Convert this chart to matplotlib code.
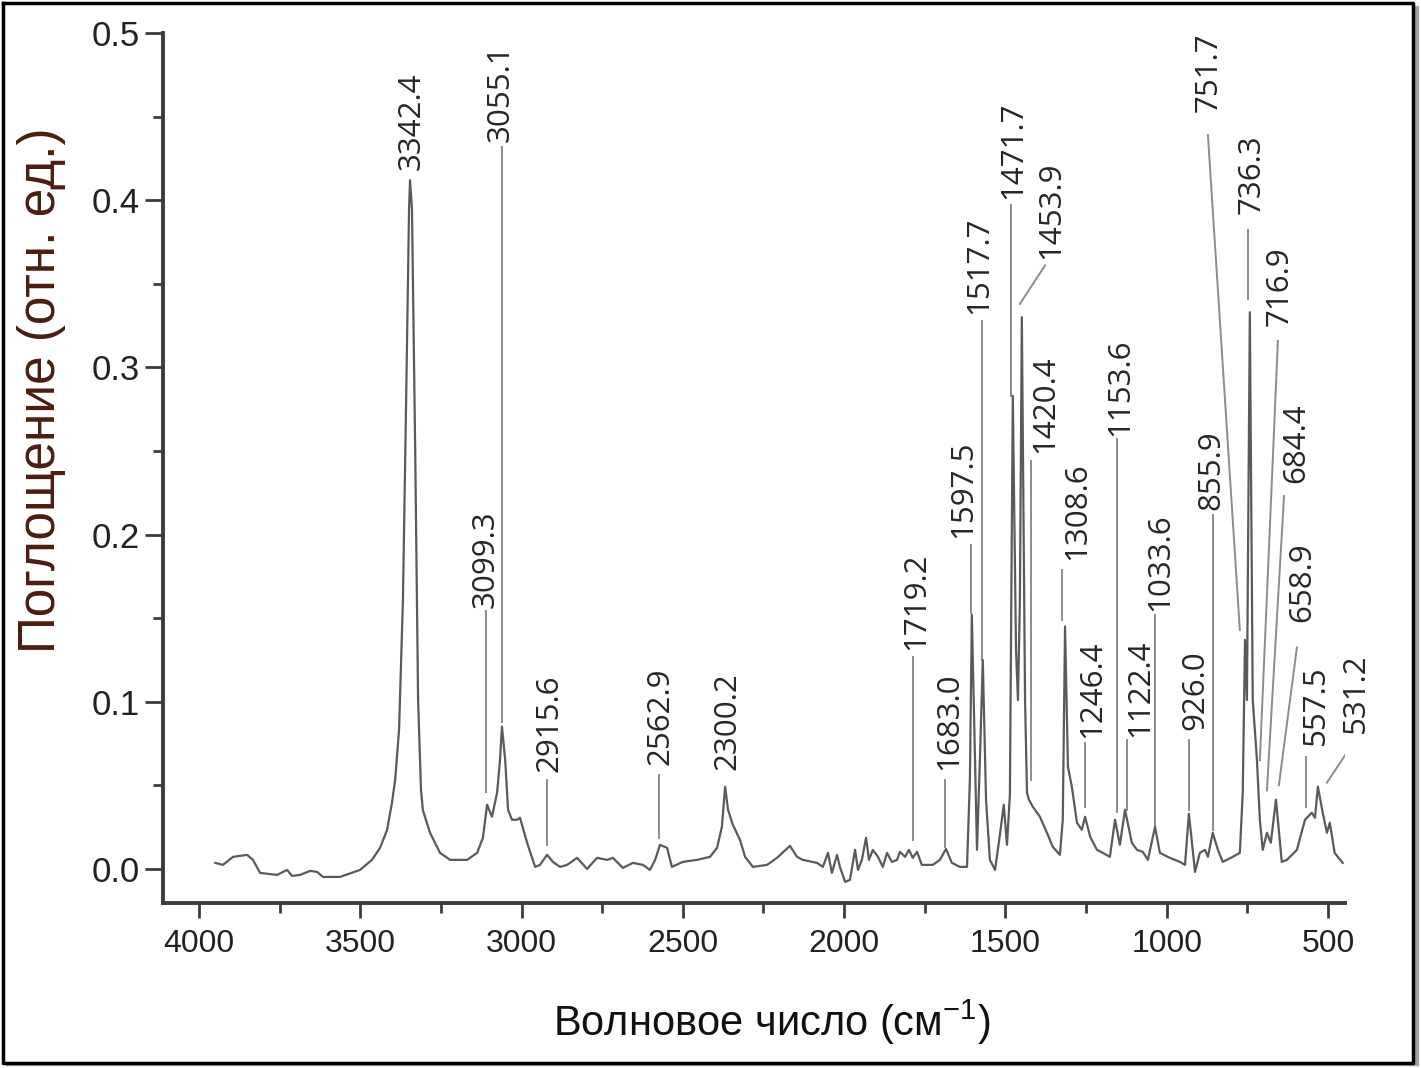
import numpy as np
import matplotlib
matplotlib.use('Agg')
import matplotlib.pyplot as plt
from matplotlib.ticker import MultipleLocator, FormatStrFormatter
from matplotlib.lines import Line2D

# IR spectrum (wavenumber in cm-1, absorbance)
wavenumber = [3950, 3926, 3895, 3851, 3833, 3811, 3758, 3727, 3712, 3687, 3656, 3634, 3616, 3563,
              3501, 3464, 3439, 3417, 3402, 3392, 3380, 3368, 3358, 3349, 3346, 3340, 3330, 3321,
              3312, 3306, 3284, 3253, 3222, 3169, 3138, 3120, 3107, 3092, 3076, 3067, 3061, 3051,
              3042, 3030, 3014, 3005, 2983, 2958, 2943, 2921, 2903, 2881, 2859, 2828, 2797, 2766,
              2735, 2717, 2686, 2655, 2624, 2602, 2586, 2571, 2549, 2534, 2500, 2456, 2416, 2394,
              2379, 2369, 2360, 2345, 2323, 2307, 2283, 2239, 2208, 2168, 2146, 2128, 2084, 2066,
              2050, 2038, 2022, 2013, 1997, 1982, 1966, 1957, 1945, 1932, 1923, 1911, 1895, 1880,
              1867, 1852, 1836, 1827, 1811, 1799, 1787, 1774, 1759, 1725, 1703, 1684, 1666, 1641,
              1619, 1610, 1604, 1594, 1588, 1579, 1570, 1560, 1548, 1532, 1517, 1505, 1495, 1486,
              1477, 1467, 1461, 1455, 1449, 1439, 1433, 1427, 1415, 1393, 1371, 1353, 1331, 1322,
              1315, 1306, 1294, 1278, 1263, 1253, 1237, 1216, 1198, 1176, 1160, 1145, 1129, 1108,
              1092, 1074, 1058, 1036, 1021, 990, 959, 943, 931, 912, 897, 881, 872, 857, 841, 826,
              795, 773, 764, 757, 751, 742, 733, 720, 711, 702, 689, 677, 661, 643, 627, 596, 571,
              550, 540, 531, 516, 503, 494, 479, 454]
absorbance = [0.0036, 0.0024, 0.0072, 0.0084, 0.0054, -0.0024, -0.0036, -0.0006, -0.0042, -0.0036,
              -0.0012, -0.0018, -0.0048, -0.0048, -0.0006, 0.0054, 0.0126, 0.0234, 0.0396, 0.0534,
              0.0833, 0.161, 0.281, 0.395, 0.412, 0.395, 0.251, 0.101, 0.047, 0.035, 0.0216, 0.0096,
              0.0054, 0.0054, 0.0096, 0.0186, 0.0384, 0.0312, 0.0456, 0.0653, 0.0851, 0.0653, 0.0354,
              0.0294, 0.0294, 0.0306, 0.0156, 0.0012, 0.0024, 0.0084, 0.0042, 0.0012, 0.0024, 0.0066,
              0.0, 0.0066, 0.0054, 0.0066, 0.0006, 0.0036, 0.0024, -0.0006, 0.0054, 0.0144, 0.0126,
              0.0012, 0.0042, 0.0054, 0.0072, 0.0126, 0.0252, 0.0492, 0.0354, 0.0264, 0.0174, 0.0072,
              0.0012, 0.0024, 0.0066, 0.0138, 0.0072, 0.0054, 0.0036, 0.0012, 0.0096, -0.0024, 0.0084,
              0.0012, -0.0078, -0.0066, 0.0114, -0.0006, 0.0054, 0.0186, 0.0054, 0.0114, 0.0072,
              0.0012, 0.0096, 0.0042, 0.0054, 0.0102, 0.0072, 0.0114, 0.0066, 0.0102, 0.0024, 0.0024,
              0.0054, 0.012, 0.0036, 0.0012, 0.0012, 0.0534, 0.152, 0.0653, 0.0114, 0.0653, 0.125,
              0.0414, 0.0054, -0.0006, 0.0204, 0.0384, 0.0144, 0.0444, 0.283, 0.131, 0.101, 0.161,
              0.330, 0.101, 0.0456, 0.0414, 0.0372, 0.0312, 0.0216, 0.0132, 0.0084, 0.0294, 0.145,
              0.0612, 0.0492, 0.0276, 0.0234, 0.0312, 0.0192, 0.0114, 0.0096, 0.0072, 0.0294, 0.0144,
              0.0354, 0.0156, 0.0114, 0.0102, 0.0054, 0.0252, 0.0096, 0.0066, 0.0042, 0.0024, 0.033,
              -0.0018, 0.0096, 0.0114, 0.0072, 0.0216, 0.0114, 0.0042, 0.0072, 0.0096, 0.0456, 0.137,
              0.101, 0.333, 0.101, 0.0653, 0.0294, 0.0114, 0.0216, 0.0156, 0.0414, 0.0042, 0.0054,
              0.0114, 0.0294, 0.0336, 0.0306, 0.0492, 0.0336, 0.0216, 0.0276, 0.0096, 0.0036]

# peak labels: text anchor (bottom of rotated text) and leader line ends
peak_labels = ['3342.4', '3055.1', '3099.3', '2915.6', '2562.9', '2300.2', '1719.2', '1683.0',
               '1597.5', '1517.7', '1471.7', '1453.9', '1420.4', '1308.6', '1246.4', '1153.6',
               '1122.4', '1033.6', '926.0', '855.9', '751.7', '736.3', '716.9', '684.4', '658.9',
               '557.5', '531.2']
label_x = [3340, 3064, 3113, 2912, 2568, 2363, 1777, 1675, 1632, 1582, 1477, 1359, 1377, 1278,
           1232, 1145, 1083, 1021, 912, 860, 869, 736, 649, 599, 578, 537, 413]
label_y = [0.418, 0.435, 0.156, 0.058, 0.062, 0.059, 0.131, 0.059, 0.198, 0.332, 0.401, 0.365,
           0.249, 0.185, 0.0785, 0.259, 0.079, 0.154, 0.083, 0.215, 0.453, 0.392, 0.325, 0.231,
           0.148, 0.074, 0.0815]
nan = np.nan
leader_x0 = [nan, 3061, 3110, 2921, 2574, nan, 1787, 1687, 1607, 1573, 1483, 1377, 1421, 1325,
             1253, 1154, 1123, 1036, 931, 857, 872, 748, 655, 636, 596, 568, 426]
leader_y0 = [nan, 0.432, 0.154, 0.053, 0.056, nan, 0.1265, 0.053, 0.194, 0.328, 0.397, 0.361,
             0.244, 0.179, 0.0755, 0.257, 0.077, 0.152, 0.077, 0.212, 0.439, 0.382, 0.316, 0.223,
             0.1325, 0.067, 0.074]
leader_x1 = [nan, 3061, 3110, 2921, 2574, nan, 1787, 1687, 1607, 1573, 1483, 1455, 1421, 1325,
             1253, 1154, 1123, 1036, 931, 857, 773, 748, 711, 689, 652, 568, 503]
leader_y1 = [nan, 0.088, 0.046, 0.0144, 0.0186, nan, 0.0174, 0.0132, 0.153, 0.125, 0.283, 0.338,
             0.053, 0.149, 0.037, 0.034, 0.035, 0.026, 0.035, 0.023, 0.143, 0.341, 0.065, 0.047,
             0.050, 0.037, 0.0516]

plt.rcParams['mathtext.fontset'] = 'custom'
plt.rcParams['mathtext.rm'] = 'Liberation Sans'

fig = plt.figure(figsize=(14.21, 10.68), dpi=100)
ax = fig.add_axes([0.1147, 0.1545, 0.8318, 0.8145])

ax.plot(wavenumber, absorbance, color='#5a5a5a', linewidth=1.6, zorder=3)

for i, lab in enumerate(peak_labels):
    if not np.isnan(leader_x0[i]):
        ax.plot([leader_x0[i], leader_x1[i]], [leader_y0[i], leader_y1[i]],
                color='#8c8c8c', linewidth=1.4, zorder=2)
    ax.text(label_x[i], label_y[i], lab, rotation=90, ha='center', va='bottom',
            fontsize=22.5, family=['Open Sans', 'DejaVu Sans'], color='#262626')

ax.set_xlim(4112, 447)
ax.set_ylim(-0.0204, 0.5)

ax.xaxis.set_major_locator(MultipleLocator(500))
ax.xaxis.set_minor_locator(MultipleLocator(250))
ax.yaxis.set_major_locator(MultipleLocator(0.1))
ax.yaxis.set_minor_locator(MultipleLocator(0.05))
ax.yaxis.set_major_formatter(FormatStrFormatter('%.1f'))

for side in ['top', 'right']:
    ax.spines[side].set_visible(False)
for side in ['left', 'bottom']:
    ax.spines[side].set_linewidth(2.8)
    ax.spines[side].set_color('#3c3c3c')

ax.tick_params(axis='x', which='major', direction='out', length=11, width=2, color='#3c3c3c', pad=8)
ax.tick_params(axis='x', which='minor', direction='out', length=7, width=2, color='#3c3c3c')
ax.tick_params(axis='y', which='major', direction='out', length=13, width=2, color='#3c3c3c', pad=4)
ax.tick_params(axis='y', which='minor', direction='out', length=7, width=2, color='#3c3c3c')

for t in ax.get_xticklabels():
    t.set_family(['Liberation Sans', 'DejaVu Sans'])
    t.set_fontsize(23)
    t.set_color('#222222')
for t in ax.get_yticklabels():
    t.set_family(['Liberation Sans', 'DejaVu Sans'])
    t.set_fontsize(25)
    t.set_color('#222222')

fig.text(42 / 1421, 1 - 390 / 1068, 'Поглощение (отн. ед.)', rotation=90, ha='center', va='center',
         fontsize=37, family=['Liberation Sans', 'DejaVu Sans'], color='#4a1c12')
fig.text(772 / 1421, 1 - 1022 / 1068, 'Волновое число (см$^{-1}$)', ha='center', va='center',
         fontsize=30, family=['Liberation Sans', 'DejaVu Sans'], color='#111111')

# frame around the picture, with a grey shadow on the right and bottom
W, H = 1421, 1068
fig.lines.append(Line2D([1417 / W, 1417 / W], [4 / H, 1 - 8 / H], transform=fig.transFigure,
                        color='#a0a0a0', linewidth=3))
fig.lines.append(Line2D([8 / W, 1417 / W], [4 / H, 4 / H], transform=fig.transFigure,
                        color='#a0a0a0', linewidth=3))
fig.lines.append(Line2D([3 / W, 1413 / W, 1413 / W, 3 / W, 3 / W],
                        [1 - 3 / H, 1 - 3 / H, 1 - 1063 / H, 1 - 1063 / H, 1 - 3 / H],
                        transform=fig.transFigure, color='black', linewidth=2.5))

fig.savefig('out.png', dpi=100)
